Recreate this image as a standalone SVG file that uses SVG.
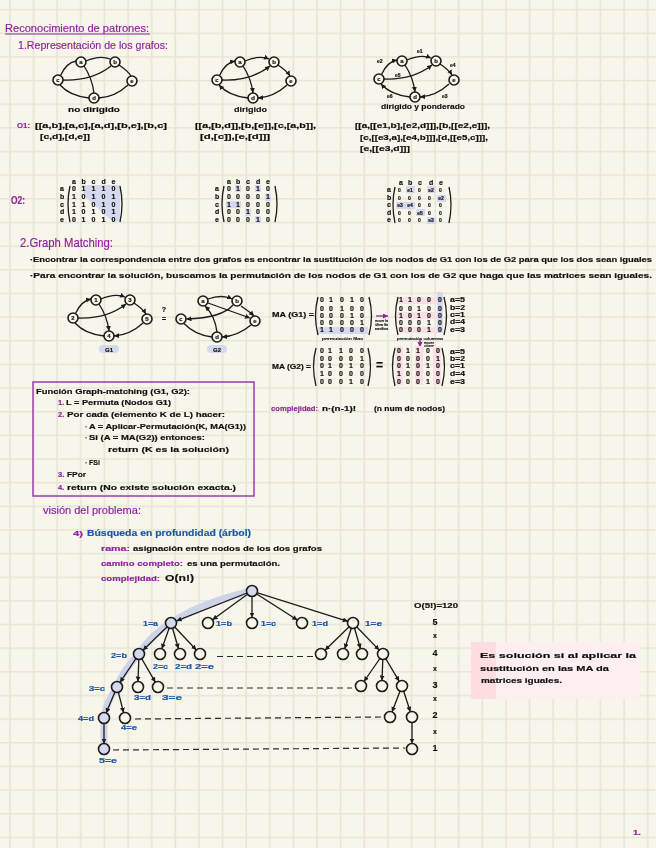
<svg xmlns="http://www.w3.org/2000/svg" width="656" height="848" viewBox="0 0 656 848">
<style>
text{font-family:"Liberation Sans",Arial,sans-serif;color:#111;fill:currentColor;stroke:currentColor;stroke-width:.18;font-weight:700;font-size:8px}
.p{color:#8e249f}
.b{color:#1b57a8}
.h{font-weight:400}
.s{font-size:7.5px}
.m{font-size:7px}
.n{font-size:6px;text-anchor:middle}
.t{font-size:6.5px}
.x{font-size:4px;font-weight:400}
.w{font-size:5px}
.z{font-size:5px;text-anchor:middle}
.e{fill:none;stroke:#1a1a1a;stroke-width:1.3;marker-end:url(#ar)}
.u{fill:none;stroke:#1a1a1a;stroke-width:1.3}
.d{fill:none;stroke:#2a2a2a;stroke-width:1.2;stroke-dasharray:6 4}
.k{fill:none;stroke:#1a1a1a;stroke-width:1.3}
.c{fill:#f8f6ea;stroke:#1a1a1a;stroke-width:1.6}
.l{fill:#d5d9ef;stroke:#1a1a1a;stroke-width:1.6}
.v{fill:#d5d9ef}
.r{fill:#fbdfe6}
</style>
<defs>
<pattern id="grid" patternUnits="userSpaceOnUse" width="23.62" height="23.65">
<path d="M10 0V23.65M0 9.6H23.62" stroke="#e7e5d7" stroke-width="1.6" fill="none"/>
</pattern>
<marker id="ar" markerWidth="6" markerHeight="6" refX="5" refY="2.5" orient="auto" markerUnits="userSpaceOnUse">
<path d="M0 0L5 2.5L0 5Z" fill="#1a1a1a"/>
</marker>
<marker id="pa" markerWidth="6" markerHeight="6" refX="5" refY="2.5" orient="auto" markerUnits="userSpaceOnUse">
<path d="M0 0L5 2.5L0 5Z" fill="#8e249f"/>
</marker>
<filter id="soft" filterUnits="userSpaceOnUse" x="0" y="0" width="656" height="848">
<feGaussianBlur stdDeviation="0.4"/>
</filter>
</defs>
<rect width="656" height="848" fill="#f8f6ea"/>
<g filter="url(#soft)">
<rect width="656" height="848" fill="url(#grid)"/>

<g id="headings">
<text class="p h" x="5" y="32" style="font-size:11px" textLength="144" lengthAdjust="spacingAndGlyphs">Reconocimiento de patrones:</text>
<path d="M5 34H150" stroke="#8e249f" stroke-width="1" fill="none"/>
<text class="p h" x="18" y="49" style="font-size:11px" textLength="150" lengthAdjust="spacingAndGlyphs">1.Representación de los grafos:</text>
<text class="p" x="17" y="128" textLength="13" lengthAdjust="spacingAndGlyphs">O1:</text>
<text class="p" x="11" y="204" style="font-size:10px" textLength="14" lengthAdjust="spacingAndGlyphs">O2:</text>
<text class="p h" x="20" y="247" style="font-size:13px" textLength="93" lengthAdjust="spacingAndGlyphs">2.Graph Matching:</text>
<text x="30" y="262" class="s" textLength="622" lengthAdjust="spacingAndGlyphs">·Encontrar la correspondencia entre dos grafos es encontrar la sustitución de los nodos de G1 con los de G2 para que los dos sean iguales</text>
<text x="30" y="278" class="s" textLength="622" lengthAdjust="spacingAndGlyphs">·Para encontrar la solución, buscamos la permutación de los nodos de G1 con los de G2 que haga que las matrices sean iguales.</text>
<text class="p h" x="43" y="514" style="font-size:11px" textLength="98" lengthAdjust="spacingAndGlyphs">visión del problema:</text>
<text class="p" x="73" y="536" textLength="10" lengthAdjust="spacingAndGlyphs">4)</text>
<text class="b" x="87" y="536" style="font-size:9px" textLength="164" lengthAdjust="spacingAndGlyphs">Búsqueda en profundidad (árbol)</text>
<text class="p" x="101" y="551" textLength="29" lengthAdjust="spacingAndGlyphs">rama:</text>
<text x="133" y="551" textLength="189" lengthAdjust="spacingAndGlyphs">asignación entre nodos de los dos grafos</text>
<text class="p" x="101" y="566" textLength="82" lengthAdjust="spacingAndGlyphs">camino completo:</text>
<text x="187" y="566" textLength="93" lengthAdjust="spacingAndGlyphs">es una permutación.</text>
<text class="p" x="101" y="581" textLength="59" lengthAdjust="spacingAndGlyphs">complejidad:</text>
<text x="165" y="581" style="font-size:9px" textLength="29" lengthAdjust="spacingAndGlyphs">O(n!)</text>
<text class="p" x="271" y="411" textLength="47" lengthAdjust="spacingAndGlyphs">complejidad:</text>
<text x="322" y="411" class="t" textLength="34" lengthAdjust="spacingAndGlyphs">n·(n-1)!</text>
<text x="374" y="411" class="t" textLength="71" lengthAdjust="spacingAndGlyphs">(n num de nodos)</text>
<text class="p" x="633" y="835" textLength="8" lengthAdjust="spacingAndGlyphs">1.</text>
</g>

<g id="connectors">
<g>
<path class="u" d="M60.5 75.5Q66 63 76 61M86 61Q100 55 110 59M119 65Q128 71 131 76M128 85Q115 97 99 98M89 98Q70 96 60 85M63 80Q92 81 111 66M84 66Q92 78 94 93"/>
</g>
<g transform="translate(159,0)">
<path class="e" d="M60.5 75.5Q66 63 76 61"/><path class="e" d="M86 61Q100 55 110 59"/><path class="e" d="M119 65Q128 71 131 76"/><path class="e" d="M128 85Q115 97 99 98"/><path class="e" d="M89 98Q70 96 60 85"/><path class="e" d="M63 80Q92 81 111 66"/><path class="e" d="M84 66Q92 78 94 93"/>
</g>
<g transform="translate(321,-1)">
<path class="e" d="M60.5 75.5Q66 63 76 61"/><path class="e" d="M86 61Q100 55 110 59"/><path class="e" d="M119 65Q128 71 131 76"/><path class="e" d="M128 85Q115 97 99 98"/><path class="e" d="M89 98Q70 96 60 85"/><path class="e" d="M63 80Q92 81 111 66"/><path class="e" d="M84 66Q92 78 94 93"/>
</g>
<g transform="translate(15,238)">
<path class="e" d="M60.5 75.5Q66 63 76 61"/><path class="e" d="M86 61Q100 55 110 59"/><path class="e" d="M119 65Q128 71 131 76"/><path class="e" d="M128 85Q115 97 99 98"/><path class="u" d="M89 98Q70 96 60 85"/><path class="e" d="M63 80Q92 81 111 66"/><path class="e" d="M84 66Q92 78 94 93"/>
</g>
<path class="e" d="M208 299Q222 294 232 299"/><path class="e" d="M208 303L250 318"/><path class="e" d="M217 332Q215 316 205 306"/><path class="e" d="M241 306Q250 312 254 316"/><path class="e" d="M251 325Q238 336 222 337"/><path class="u" d="M212 337Q195 335 184 323.5"/><path class="e" d="M233 305Q222 318 186.5 319"/>
<path d="M252 591Q200 603 171 623Q150 636 139 654Q122 672 117 687Q106 703 104 718V749" fill="none" stroke="#cfd3ea" stroke-width="7"/>
<g>
<path class="e" d="M252 591L176.6 620.8"/><path class="e" d="M252 591L212.5 619.8"/><path class="e" d="M252 591V617.5"/><path class="e" d="M252 591L297.4 620"/><path class="e" d="M252 591L347.8 621.3"/>
<path class="e" d="M171 623L143 650.2"/><path class="e" d="M171 623L161.8 648.8"/><path class="e" d="M171 623L178.5 648.7"/><path class="e" d="M171 623L196.3 650"/>
<path class="e" d="M353 623L325 650.2"/><path class="e" d="M353 623L344.7 648.8"/><path class="e" d="M353 623L360.5 648.7"/><path class="e" d="M353 623L379.2 650.1"/>
<path class="e" d="M139 654L120 682.4"/><path class="e" d="M139 654L138 681.5"/><path class="e" d="M139 654L155.3 682.2"/>
<path class="e" d="M383 654L364 681.5"/><path class="e" d="M383 654L382 680.5"/><path class="e" d="M383 654L399.2 681.3"/>
<path class="e" d="M117 687L106.1 713"/><path class="e" d="M117 687L123.6 712.7"/>
<path class="e" d="M402 686L392 712"/><path class="e" d="M402 686L410.3 711.8"/>
<path class="e" d="M104 718V743.5"/><path class="e" d="M412 717V743.5"/>
</g>
<path class="d" d="M217 656.5H313M167 688H352M135 719L383 717M113 750L405 748"/>
<path d="M376 316H388" stroke="#8e249f" stroke-width="1.3" fill="none" marker-end="url(#pa)"/>
<path d="M420 339V347" stroke="#8e249f" stroke-width="1.3" fill="none" marker-end="url(#pa)"/>
</g>

<g id="graph-nodes-1">
<g id="g1a"><circle class="c" cx="81" cy="62" r="5"/><text class="n" x="81" y="64">a</text></g>
<g id="g1b"><circle class="c" cx="115" cy="62" r="5"/><text class="n" x="115" y="64">b</text></g>
<g id="g1c"><circle class="c" cx="58" cy="80" r="5"/><text class="n" x="58" y="82">c</text></g>
<g id="g1d"><circle class="c" cx="94" cy="98" r="5"/><text class="n" x="94" y="100">d</text></g>
<g id="g1e"><circle class="c" cx="132" cy="81" r="5"/><text class="n" x="132" y="83">e</text></g>
</g>
<g id="graph-nodes-2">
<g id="g2a"><circle class="c" cx="240" cy="62" r="5"/><text class="n" x="240" y="64">a</text></g>
<g id="g2b"><circle class="c" cx="274" cy="62" r="5"/><text class="n" x="274" y="64">b</text></g>
<g id="g2c"><circle class="c" cx="217" cy="80" r="5"/><text class="n" x="217" y="82">c</text></g>
<g id="g2d"><circle class="c" cx="253" cy="98" r="5"/><text class="n" x="253" y="100">d</text></g>
<g id="g2e"><circle class="c" cx="291" cy="81" r="5"/><text class="n" x="291" y="83">e</text></g>
</g>
<g id="graph-nodes-3">
<g id="g3a"><circle class="c" cx="402" cy="61" r="5"/><text class="n" x="402" y="63">a</text></g>
<g id="g3b"><circle class="c" cx="436" cy="61" r="5"/><text class="n" x="436" y="63">b</text></g>
<g id="g3c"><circle class="c" cx="379" cy="79" r="5"/><text class="n" x="379" y="81">c</text></g>
<g id="g3d"><circle class="c" cx="415" cy="97" r="5"/><text class="n" x="415" y="99">d</text></g>
<g id="g3e"><circle class="c" cx="454" cy="80" r="5"/><text class="n" x="454" y="82">e</text></g>
</g>
<g id="graph-3-weights">
<text class="w" x="417" y="53">e1</text>
<text class="w" x="377" y="63">e2</text>
<text class="w" x="450" y="67">e4</text>
<text class="w" x="395" y="77">e5</text>
<text class="w" x="387" y="98">e6</text>
<text class="w" x="442" y="98">e3</text>
</g>
<g id="graph-g1">
<g id="h1"><circle class="c" cx="96" cy="300" r="5"/><text class="n" x="96" y="302">1</text></g>
<g id="h2"><circle class="c" cx="130" cy="300" r="5"/><text class="n" x="130" y="302">3</text></g>
<g id="h3"><circle class="c" cx="73" cy="318" r="5"/><text class="n" x="73" y="320">2</text></g>
<g id="h4"><circle class="c" cx="109" cy="336" r="5"/><text class="n" x="109" y="338">4</text></g>
<g id="h5"><circle class="c" cx="147" cy="319" r="5"/><text class="n" x="147" y="321">5</text></g>
</g>
<g id="graph-g2">
<g id="k1"><circle class="c" cx="203" cy="301" r="5"/><text class="n" x="203" y="303">a</text></g>
<g id="k2"><circle class="c" cx="237" cy="301" r="5"/><text class="n" x="237" y="303">b</text></g>
<g id="k3"><circle class="c" cx="181" cy="319" r="5"/><text class="n" x="181" y="321">c</text></g>
<g id="k4"><circle class="c" cx="217" cy="337" r="5"/><text class="n" x="217" y="339">d</text></g>
<g id="k5"><circle class="c" cx="255" cy="321" r="5"/><text class="n" x="255" y="323">e</text></g>
</g>
<g id="graph-tags">
<rect class="v" x="99" y="345" width="20" height="8" rx="4"/>
<rect class="v" x="207" y="345" width="20" height="8" rx="4"/>
<text class="n" x="109" y="351.5">G1</text>
<text class="n" x="217" y="351.5">G2</text>
<text class="n" x="164" y="312" style="font-size:7px">?</text>
<text class="n" x="164" y="321" style="font-size:7px">=</text>
</g>

<g id="captions">
<text x="68" y="112" textLength="52" lengthAdjust="spacingAndGlyphs">no dirigido</text>
<text x="234" y="112" textLength="33" lengthAdjust="spacingAndGlyphs">dirigido</text>
<text x="381" y="109" textLength="84" lengthAdjust="spacingAndGlyphs">dirigido y ponderado</text>
<text x="35" y="128" class="t" textLength="132" lengthAdjust="spacingAndGlyphs">[[a,b],[a,c],[a,d],[b,e],[b,c]</text>
<text x="40" y="139" class="t" textLength="50" lengthAdjust="spacingAndGlyphs">[c,d],[d,e]]</text>
<text x="195" y="128" class="t" textLength="121" lengthAdjust="spacingAndGlyphs">[[a,[b,d]],[b,[e]],[c,[a,b]],</text>
<text x="200" y="139" class="t" textLength="70" lengthAdjust="spacingAndGlyphs">[d,[c]],[e,[d]]]</text>
<text x="355" y="128" class="t" textLength="135" lengthAdjust="spacingAndGlyphs">[[a,[[e1,b],[e2,d]]],[b,[[e2,e]]],</text>
<text x="360" y="140" class="t" textLength="128" lengthAdjust="spacingAndGlyphs">[c,[[e3,a],[e4,b]]],[d,[[e5,c]]],</text>
<text x="360" y="151" class="t" textLength="50" lengthAdjust="spacingAndGlyphs">[e,[[e3,d]]]</text>
</g>

<g id="matrix-1">
<path class="v" d="M82 185H120V221H112L84 196Z"/>
<text class="m" x="72 81.500 91.500 101.500 111.500" y="184">abcde</text>
<text class="m" x="60" y="190.500">a</text><text class="m" x="60" y="199">b</text><text class="m" x="60" y="206.500">c</text><text class="m" x="60" y="214">d</text><text class="m" x="60" y="221.500">e</text>
<text class="m" x="72 81.500 91.500 101.500 111.500" y="190.500">01110</text>
<text class="m" x="72 81.500 91.500 101.500 111.500" y="199">10101</text>
<text class="m" x="72 81.500 91.500 101.500 111.500" y="206.500">11010</text>
<text class="m" x="72 81.500 91.500 101.500 111.500" y="214">10101</text>
<text class="m" x="72 81.500 91.500 101.500 111.500" y="221.500">01010</text>
<path class="k" d="M70 186Q66 204 70 222M120 186Q124 204 120 222"/>
</g>
<g id="matrix-2">
<rect class="v" x="235" y="185" width="6" height="7"/><rect class="v" x="255" y="185" width="6" height="7"/><rect class="v" x="265" y="194" width="6" height="7"/><rect class="v" x="226" y="201" width="15" height="7"/><rect class="v" x="245" y="209" width="6" height="7"/><rect class="v" x="255" y="216" width="6" height="7"/>
<text class="m" x="227 236 246 256 266" y="184">abcde</text>
<text class="m" x="215" y="190.500">a</text><text class="m" x="215" y="199">b</text><text class="m" x="215" y="206.500">c</text><text class="m" x="215" y="214">d</text><text class="m" x="215" y="221.500">e</text>
<text class="m" x="227 236 246 256 266" y="190.500">01010</text>
<text class="m" x="227 236 246 256 266" y="199">00001</text>
<text class="m" x="227 236 246 256 266" y="206.500">11000</text>
<text class="m" x="227 236 246 256 266" y="214">00100</text>
<text class="m" x="227 236 246 256 266" y="221.500">00010</text>
<path class="k" d="M224 186Q220 204 224 222M275 186Q279 204 275 222"/>
</g>
<g id="matrix-3">
<rect class="v" x="406" y="186" width="9" height="7"/><rect class="v" x="427" y="186" width="9" height="7"/><rect class="v" x="437" y="195" width="9" height="7"/><rect class="v" x="396" y="202" width="19" height="7"/><rect class="v" x="416" y="209" width="9" height="7"/><rect class="v" x="427" y="217" width="9" height="7"/>
<text class="m" x="399 408 418 429 439" y="185">abcde</text>
<text class="m" x="387" y="191.500">a</text><text class="m" x="387" y="199.500">b</text><text class="m" x="387" y="207">c</text><text class="m" x="387" y="214.500">d</text><text class="m" x="387" y="222">e</text>
<text class="w" x="398" y="191.500">0</text><text class="z" x="410" y="191.500">e1</text><text class="w" x="418" y="191.500">0</text><text class="z" x="431" y="191.500">e2</text><text class="w" x="439" y="191.500">0</text>
<text class="w" x="398" y="199.500">0</text><text class="w" x="408" y="199.500">0</text><text class="w" x="418" y="199.500">0</text><text class="w" x="428" y="199.500">0</text><text class="z" x="441" y="199.500">e2</text>
<text class="z" x="400" y="207">e3</text><text class="z" x="410" y="207">e4</text><text class="w" x="418" y="207">0</text><text class="w" x="428" y="207">0</text><text class="w" x="439" y="207">0</text>
<text class="w" x="398" y="214.500">0</text><text class="w" x="408" y="214.500">0</text><text class="z" x="420" y="214.500">e5</text><text class="w" x="428" y="214.500">0</text><text class="w" x="439" y="214.500">0</text>
<text class="w" x="398" y="222">0</text><text class="w" x="408" y="222">0</text><text class="w" x="418" y="222">0</text><text class="z" x="431" y="222">e3</text><text class="w" x="439" y="222">0</text>
<path class="k" d="M395 187Q391 204 395 223M449 187Q453 204 449 223"/>
</g>

<g id="ma-g1">
<rect class="v" x="318" y="327" width="50" height="7"/>
<text x="272" y="317" class="t" textLength="42" lengthAdjust="spacingAndGlyphs">MA (G1) =</text>
<text class="m" x="320 329 340 350 360" y="302">01010</text>
<text class="m" x="320 329 340 350 360" y="311">00100</text>
<text class="m" x="320 329 340 350 360" y="318">00010</text>
<text class="m" x="320 329 340 350 360" y="325">00001</text>
<text class="m" x="320 329 340 350 360" y="332">11000</text>
<path class="k" d="M318 297Q313 316 318 335M369 297Q374 316 369 335"/>
<text class="x" x="322" y="340" textLength="41" lengthAdjust="spacingAndGlyphs">permutación filas</text>
</g>
<g id="ma-g1-permutada">
<rect class="r" x="397" y="297" width="43" height="7"/><rect class="r" x="397" y="312" width="43" height="7"/><rect class="r" x="397" y="327" width="43" height="6"/>
<rect class="v" x="437" y="292" width="6" height="41"/>
<text class="x" x="375" y="322" style="font-size:3.5px" textLength="13" lengthAdjust="spacingAndGlyphs">mover la</text>
<text class="x" x="375" y="326" style="font-size:3.5px" textLength="13" lengthAdjust="spacingAndGlyphs">última fila</text>
<text class="x" x="375" y="330" style="font-size:3.5px" textLength="13" lengthAdjust="spacingAndGlyphs">arriba</text>
<text class="m" x="399 408 417 427 438" y="302">11000</text>
<text class="m" x="399 408 417 427 438" y="311">00100</text>
<text class="m" x="399 408 417 427 438" y="318">10100</text>
<text class="m" x="399 408 417 427 438" y="325">00010</text>
<text class="m" x="399 408 417 427 438" y="332">00010</text>
<path class="k" d="M398 297Q393 316 398 335M444 297Q449 316 444 335"/>
<text class="x" x="397" y="340" textLength="46" lengthAdjust="spacingAndGlyphs">permutación columnas</text>
<text class="x" x="424" y="343.500" style="font-size:3.5px" textLength="10" lengthAdjust="spacingAndGlyphs">mover</text>
<text class="x" x="424" y="347" style="font-size:3.5px" textLength="10" lengthAdjust="spacingAndGlyphs">columna</text>
<text class="t" x="450" y="301.500" textLength="15" lengthAdjust="spacingAndGlyphs">a=5</text>
<text class="t" x="450" y="309.500" textLength="15" lengthAdjust="spacingAndGlyphs">b=2</text>
<text class="t" x="450" y="316.500" textLength="15" lengthAdjust="spacingAndGlyphs">c=1</text>
<text class="t" x="450" y="323.500" textLength="15" lengthAdjust="spacingAndGlyphs">d=4</text>
<text class="t" x="450" y="331.500" textLength="15" lengthAdjust="spacingAndGlyphs">e=3</text>
</g>
<g id="ma-g2">
<text x="272" y="369" class="t" textLength="39" lengthAdjust="spacingAndGlyphs">MA (G2) =</text>
<text class="m" x="320 328 339 349 360" y="353">01100</text>
<text class="m" x="320 328 339 349 360" y="361">00001</text>
<text class="m" x="320 328 339 349 360" y="368">01010</text>
<text class="m" x="320 328 339 349 360" y="376">10000</text>
<text class="m" x="320 328 339 349 360" y="384">00010</text>
<path class="k" d="M316 348Q311 366 316 386M368 348Q373 366 368 386"/>
<text x="376" y="369" style="font-size:12px">=</text>
</g>
<g id="ma-g2-igual">
<rect class="r" x="396" y="346" width="7" height="39"/><rect class="r" x="415" y="346" width="8" height="39"/><rect class="r" x="433" y="346" width="8" height="39"/>
<text class="m" x="397 406 416 426 436" y="353">01100</text>
<text class="m" x="397 406 416 426 436" y="361">00001</text>
<text class="m" x="397 406 416 426 436" y="368">01010</text>
<text class="m" x="397 406 416 426 436" y="376">10000</text>
<text class="m" x="397 406 416 426 436" y="384">00010</text>
<path class="k" d="M395 348Q390 366 395 386M442 348Q447 366 442 386"/>
<text class="t" x="450" y="353.500" textLength="15" lengthAdjust="spacingAndGlyphs">a=5</text>
<text class="t" x="450" y="360.500" textLength="15" lengthAdjust="spacingAndGlyphs">b=2</text>
<text class="t" x="450" y="367.500" textLength="15" lengthAdjust="spacingAndGlyphs">c=1</text>
<text class="t" x="450" y="375.500" textLength="15" lengthAdjust="spacingAndGlyphs">d=4</text>
<text class="t" x="450" y="383.500" textLength="15" lengthAdjust="spacingAndGlyphs">e=3</text>
</g>

<g id="algoritmo">
<rect x="33" y="382" width="221" height="114" fill="none" stroke="#9a3eae" stroke-width="1.5"/>
<text x="36" y="394" class="s" textLength="154" lengthAdjust="spacingAndGlyphs">Función Graph-matching (G1, G2):</text>
<text class="p s" x="58" y="405">1.</text><text x="66" y="405" class="s" textLength="105" lengthAdjust="spacingAndGlyphs">L = Permuta (Nodos G1)</text>
<text class="p s" x="58" y="417">2.</text><text x="67" y="417" class="s" textLength="158" lengthAdjust="spacingAndGlyphs">Por cada (elemento K de L) hacer:</text>
<text class="p s" x="85" y="429">·</text><text x="89" y="429" class="s" textLength="157" lengthAdjust="spacingAndGlyphs">A = Aplicar-Permutación(K, MA(G1))</text>
<text class="p s" x="85" y="440">·</text><text x="89" y="440" class="s" textLength="116" lengthAdjust="spacingAndGlyphs">Si (A = MA(G2)) entonces:</text>
<text x="108" y="452" class="s" textLength="121" lengthAdjust="spacingAndGlyphs">return (K es la solución)</text>
<text class="p s" x="85" y="465">·</text><text x="89" y="465" class="s" textLength="11" lengthAdjust="spacingAndGlyphs">FSi</text>
<text class="p s" x="58" y="477">3.</text><text x="67" y="477" class="s" textLength="19" lengthAdjust="spacingAndGlyphs">FPor</text>
<text class="p s" x="58" y="490">4.</text><text x="67" y="490" class="s" textLength="169" lengthAdjust="spacingAndGlyphs">return (No existe solución exacta.)</text>
</g>

<g id="tree-nodes">
<g id="root"><circle class="l" cx="252" cy="591" r="5.500"/></g>
<g id="t1a"><circle class="l" cx="171" cy="623" r="5.500"/><text class="b t" x="143" y="625.500" textLength="15" lengthAdjust="spacingAndGlyphs">1=a</text></g>
<g id="t1b"><circle class="c" cx="208" cy="623" r="5.500"/><text class="b t" x="216" y="625.500" textLength="16" lengthAdjust="spacingAndGlyphs">1=b</text></g>
<g id="t1c"><circle class="c" cx="252" cy="623" r="5.500"/><text class="b t" x="261" y="625.500" textLength="15" lengthAdjust="spacingAndGlyphs">1=c</text></g>
<g id="t1d"><circle class="c" cx="302" cy="623" r="5.500"/><text class="b t" x="312" y="625.500" textLength="16" lengthAdjust="spacingAndGlyphs">1=d</text></g>
<g id="t1e"><circle class="c" cx="353" cy="623" r="5.500"/><text class="b t" x="365" y="625.500" textLength="17" lengthAdjust="spacingAndGlyphs">1=e</text></g>
<g id="t2b"><circle class="l" cx="139" cy="654" r="5.500"/><text class="b t" x="111" y="658" textLength="16" lengthAdjust="spacingAndGlyphs">2=b</text></g>
<g id="t2c"><circle class="c" cx="160" cy="654" r="5.500"/><text class="b t" x="153" y="669" textLength="15" lengthAdjust="spacingAndGlyphs">2=c</text></g>
<g id="t2d"><circle class="c" cx="180" cy="654" r="5.500"/><text class="b t" x="175" y="669" textLength="17" lengthAdjust="spacingAndGlyphs">2=d</text></g>
<g id="t2e"><circle class="c" cx="200" cy="654" r="5.500"/><text class="b t" x="195" y="669" textLength="19" lengthAdjust="spacingAndGlyphs">2=e</text></g>
<g id="t2f"><circle class="c" cx="321" cy="654" r="5.500"/></g>
<g id="t2g"><circle class="c" cx="343" cy="654" r="5.500"/></g>
<g id="t2h"><circle class="c" cx="362" cy="654" r="5.500"/></g>
<g id="t2i"><circle class="c" cx="383" cy="654" r="5.500"/></g>
<g id="t3c"><circle class="l" cx="117" cy="687" r="5.500"/><text class="b t" x="89" y="690.500" textLength="16" lengthAdjust="spacingAndGlyphs">3=c</text></g>
<g id="t3d"><circle class="c" cx="138" cy="687" r="5.500"/><text class="b t" x="134" y="700" textLength="17" lengthAdjust="spacingAndGlyphs">3=d</text></g>
<g id="t3e"><circle class="c" cx="158" cy="687" r="5.500"/><text class="b t" x="162" y="700" textLength="20" lengthAdjust="spacingAndGlyphs">3=e</text></g>
<g id="t3f"><circle class="c" cx="361" cy="686" r="5.500"/></g>
<g id="t3g"><circle class="c" cx="382" cy="686" r="5.500"/></g>
<g id="t3h"><circle class="c" cx="402" cy="686" r="5.500"/></g>
<g id="t4d"><circle class="l" cx="104" cy="718" r="5.500"/><text class="b t" x="78" y="720.500" textLength="16" lengthAdjust="spacingAndGlyphs">4=d</text></g>
<g id="t4e"><circle class="c" cx="125" cy="718" r="5.500"/><text class="b t" x="121" y="729.500" textLength="16" lengthAdjust="spacingAndGlyphs">4=e</text></g>
<g id="t4f"><circle class="c" cx="390" cy="717" r="5.500"/></g>
<g id="t4g"><circle class="c" cx="412" cy="717" r="5.500"/></g>
<g id="t5e"><circle class="l" cx="104" cy="749" r="5.500"/><text class="b t" x="99" y="763" textLength="18" lengthAdjust="spacingAndGlyphs">5=e</text></g>
<g id="t5f"><circle class="c" cx="412" cy="749" r="5.500"/></g>
</g>

<g id="factorial">
<text x="414" y="608" class="t" textLength="44" lengthAdjust="spacingAndGlyphs">O(5!)=120</text>
<g style="text-anchor:middle">
<text x="435" y="625" style="font-size:9px">5</text>
<text x="435" y="638" style="font-size:7px">x</text>
<text x="435" y="656" style="font-size:9px">4</text>
<text x="435" y="671" style="font-size:7px">x</text>
<text x="435" y="688" style="font-size:9px">3</text>
<text x="435" y="701" style="font-size:7px">x</text>
<text x="435" y="718" style="font-size:9px">2</text>
<text x="435" y="734" style="font-size:7px">x</text>
<text x="435" y="751" style="font-size:9px">1</text>
</g>
</g>

<g id="nota">
<rect x="471" y="642" width="169" height="57" fill="#fdeff0"/>
<rect x="471" y="642" width="25" height="57" fill="#fddde0"/>
<text x="480" y="658" textLength="156" lengthAdjust="spacingAndGlyphs">Es solución si al aplicar la</text>
<text x="480" y="671" textLength="129" lengthAdjust="spacingAndGlyphs">sustitución en las MA da</text>
<text x="481" y="683" textLength="81" lengthAdjust="spacingAndGlyphs">matrices iguales.</text>
</g>
</g>
</svg>
